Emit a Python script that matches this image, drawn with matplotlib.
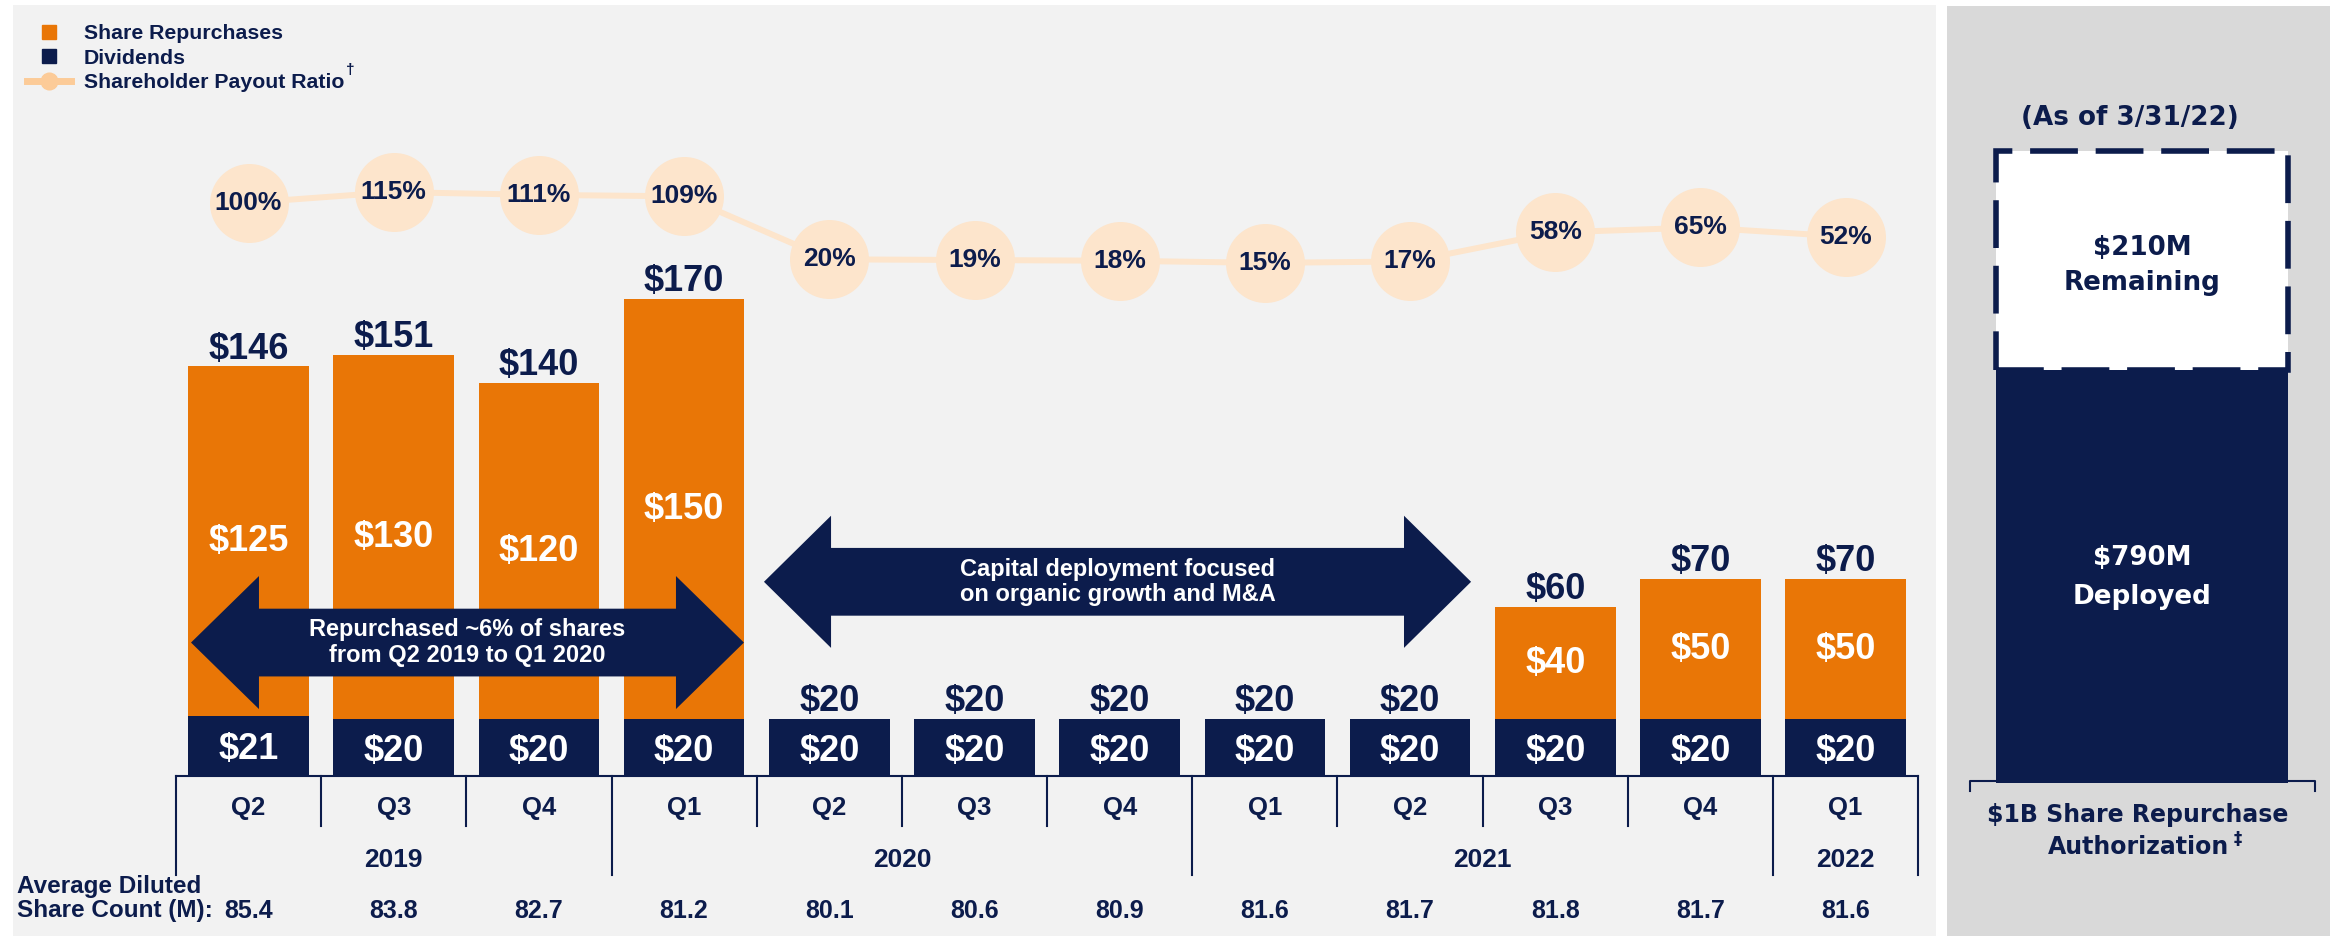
import numpy as np
import matplotlib
matplotlib.use("Agg")
import matplotlib.pyplot as plt
import matplotlib.transforms as mtransforms
from matplotlib.patches import Rectangle, Polygon
from matplotlib.lines import Line2D

# ---------------- data ----------------
quarters = ["Q2", "Q3", "Q4", "Q1", "Q2", "Q3", "Q4", "Q1", "Q2", "Q3", "Q4", "Q1"]
years = ["2019", "2020", "2021", "2022"]
year_first_idx = [0, 3, 7, 11]
year_last_idx = [2, 6, 10, 11]
dividends = [21, 20, 20, 20, 20, 20, 20, 20, 20, 20, 20, 20]
repurchases = [125, 130, 120, 150, 0, 0, 0, 0, 0, 40, 50, 50]
totals = [146, 151, 140, 170, 20, 20, 20, 20, 20, 60, 70, 70]
payout_ratio = [100, 115, 111, 109, 20, 19, 18, 15, 17, 58, 65, 52]
share_count = [85.4, 83.8, 82.7, 81.2, 80.1, 80.6, 80.9, 81.6, 81.7, 81.8, 81.7, 81.6]

auth_deployed = 790
auth_remaining = 210

# ---------------- style ----------------
NAVY = "#0C1C4C"
ORANGE = "#E97606"
PEACH = "#FDE5CC"
LEG_PEACH = "#FCCB98"
LIGHT = "#F2F2F2"
GREY = "#D9D9D9"
LIB = ["Liberation Sans", "DejaVu Sans"]
DJV = ["DejaVu Sans"]

W, H, DPI = 2341, 936, 100
fig = plt.figure(figsize=(W / DPI, H / DPI), dpi=DPI, facecolor="white")


def fx(px):
    return px / W


def fy(py):
    return 1 - py / H


# panel backgrounds
fig.add_artist(Rectangle((fx(13), 0), fx(1936) - fx(13), fy(5), transform=fig.transFigure,
                         facecolor=LIGHT, edgecolor="none", zorder=-10))
fig.add_artist(Rectangle((fx(1947), 0), fx(2330) - fx(1947), fy(6), transform=fig.transFigure,
                         facecolor=GREY, edgecolor="none", zorder=-10))

# ---------------- main chart ----------------
ax = fig.add_axes([fx(13), fy(775), fx(1936) - fx(13), fy(5) - fy(775)])
ax.set_xlim(-1.622, 11.622)
ax.set_ylim(0, 275)
ax.axis("off")

x = np.arange(len(quarters))
BW = 0.83
ax.bar(x, dividends, width=BW, color=NAVY, zorder=2)
ax.bar(x, repurchases, bottom=dividends, width=BW, color=ORANGE, zorder=2)

txt_kw = dict(family=LIB, fontweight="bold")
for i in range(len(x)):
    ax.annotate(f"${dividends[i]}", (i, dividends[i] / 2), xytext=(0, -3), textcoords="offset points",
                ha="center", va="center", color="white", fontsize=26, zorder=4, **txt_kw)
    if repurchases[i] > 0:
        ax.text(i, dividends[i] + repurchases[i] / 2, f"${repurchases[i]}", ha="center", va="center",
                color="white", fontsize=26, zorder=4, **txt_kw)
    ax.annotate(f"${totals[i]}", (i, dividends[i] + repurchases[i]), xytext=(0, 5.5),
                textcoords="offset points", ha="center", va="baseline", color=NAVY,
                fontsize=26, zorder=4, **txt_kw)


# double-headed callout arrows
def dbl_arrow(x0, x1, yc, hs, hh, hl, text):
    pts = [(x0, yc), (x0 + hl, yc + hh), (x0 + hl, yc + hs), (x1 - hl, yc + hs), (x1 - hl, yc + hh),
           (x1, yc), (x1 - hl, yc - hh), (x1 - hl, yc - hs), (x0 + hl, yc - hs), (x0 + hl, yc - hh)]
    ax.add_patch(Polygon(pts, closed=True, facecolor=NAVY, edgecolor="none", zorder=5))
    ax.text((x0 + x1) / 2, yc, text, ha="center", va="center", color="white", fontsize=17,
            linespacing=1.12, zorder=6, **txt_kw)


dbl_arrow(-0.396, 3.412, 47.3, 12.1, 23.75, 0.468, "Repurchased ~6% of shares\nfrom Q2 2019 to Q1 2020")
dbl_arrow(3.55, 8.42, 69.0, 12.1, 23.6, 0.462, "Capital deployment focused\non organic growth and M&A")

# payout ratio line with circles
ax2 = ax.twinx()
ax2.set_ylim(-708.3, 379.2)
ax2.axis("off")
ax2.plot(x, payout_ratio, color=PEACH, lw=4.3, zorder=1, solid_capstyle="round")
ax2.scatter(x, payout_ratio, s=3235, color=PEACH, linewidths=0, zorder=2)
for i, v in enumerate(payout_ratio):
    ax2.text(i, v, f"{v}%", ha="center", va="center", color=NAVY, fontsize=19, zorder=3, **txt_kw)

# category axis
trans = mtransforms.blended_transform_factory(ax.transData, fig.transFigure)
ax.plot([-0.5, 11.5], [fy(776), fy(776)], transform=trans, color=NAVY, lw=1.5, clip_on=False)
long_bounds = [-0.5, 2.5, 6.5, 10.5, 11.5]
for b in np.arange(-0.5, 12, 1.0):
    y_end = fy(875) if b in long_bounds else fy(826)
    ax.plot([b, b], [fy(776), y_end], transform=trans, color=NAVY, lw=1.5, clip_on=False)

for i, q in enumerate(quarters):
    ax.text(i, fy(808), q, transform=trans, ha="center", va="center", color=NAVY, fontsize=18.5, **txt_kw)
    ax.text(i, fy(911), f"{share_count[i]:.1f}", transform=trans, ha="center", va="center",
            color=NAVY, fontsize=18, **txt_kw)
for yl, a, b in zip(years, year_first_idx, year_last_idx):
    ax.text((a + b) / 2, fy(860), yl, transform=trans, ha="center", va="center", color=NAVY,
            fontsize=19, **txt_kw)

fig.text(fx(17), fy(887), "Average Diluted", ha="left", va="center", color=NAVY, fontsize=17.5, **txt_kw)
fig.text(fx(17), fy(911), "Share Count (M):", ha="left", va="center", color=NAVY, fontsize=17.5, **txt_kw)

# legend
handles = [
    Line2D([], [], marker="s", color=ORANGE, ls="none", markersize=10),
    Line2D([], [], marker="s", color=NAVY, ls="none", markersize=10),
    Line2D([], [], color=LEG_PEACH, lw=5, marker="o", markersize=12),
]
labels = ["Share Repurchases", "Dividends", "Shareholder Payout Ratio"]
fig.legend(handles, labels, loc="upper left", bbox_to_anchor=(fx(27), fy(24)), frameon=False,
           prop=dict(family=LIB, weight="bold", size=15.3), labelcolor=NAVY, handlelength=2.05,
           handletextpad=0.62, labelspacing=0.27, borderpad=0, borderaxespad=0)
fig.text(fx(346), fy(70), "\u2020", ha="left", va="center", color=NAVY, fontsize=11, **txt_kw)

# ---------------- right panel: authorization ----------------
ax3 = fig.add_axes([fx(1947), fy(783), fx(2330) - fx(1947), fy(151) - fy(783)])
knots_v = [0, auth_deployed, auth_deployed + auth_remaining]
knots_u = [0, 0.6535, 1.0]
ax3.set_yscale("function", functions=(lambda v: np.interp(v, knots_v, knots_u),
                                      lambda u: np.interp(u, knots_u, knots_v)))
ax3.set_xlim(-1.02, 0.98)
ax3.set_ylim(0, auth_deployed + auth_remaining)
ax3.axis("off")

b1 = ax3.bar(0, auth_deployed, width=1.525, color=NAVY, zorder=3)
b2 = ax3.bar(0, auth_remaining, bottom=auth_deployed, width=1.525, facecolor="white", edgecolor=NAVY,
             linewidth=4, linestyle=(0, (8.6, 3.2)), zorder=2)
for p in list(b1) + list(b2):
    p.set_clip_on(False)

t3 = mtransforms.blended_transform_factory(ax3.transData, ax3.transAxes)
ax3.plot([-0.9, -0.9, 0.9, 0.9], [-0.013, 0.003, 0.003, -0.013], transform=t3, color=NAVY, lw=1.5,
         clip_on=False, zorder=1)

rk = dict(family=DJV, fontweight="bold", ha="center", va="center")
ax3.text(0, 0.8465, f"${auth_remaining}M", transform=t3, color=NAVY, fontsize=18.8, zorder=5, **rk)
ax3.text(0, 0.791, "Remaining", transform=t3, color=NAVY, fontsize=18.8, zorder=5, **rk)
ax3.text(0, 0.356, f"${auth_deployed}M", transform=t3, color="white", fontsize=18.8, zorder=5, **rk)
ax3.text(0, 0.294, "Deployed", transform=t3, color="white", fontsize=18.8, zorder=5, **rk)
ax3.text(-0.064, 1.052, "(As of 3/31/22)", transform=t3, color=NAVY, fontsize=18.8, **rk)
ax3.text(-0.022, -0.0506, "$1B Share Repurchase", transform=t3, color=NAVY, fontsize=17, **rk)
ax3.text(-0.022, -0.101, "Authorization", transform=t3, color=NAVY, fontsize=17, **rk)
ax3.text(0.5, -0.088, "\u2021", transform=t3, color=NAVY, fontsize=12, **rk)

fig.savefig("out.png", dpi=DPI, facecolor="white")
